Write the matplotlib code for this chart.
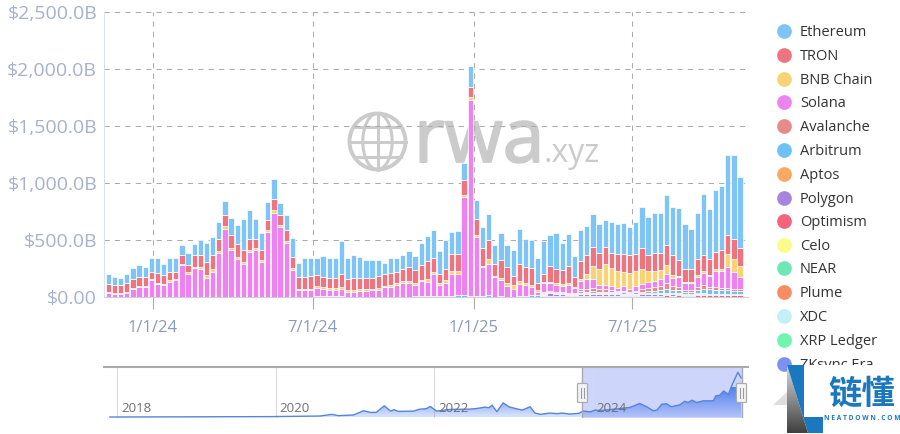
import numpy as np
import pandas as pd
import matplotlib
matplotlib.use('Agg')
import matplotlib.pyplot as plt
import matplotlib.dates as mdates
import matplotlib.patheffects as pe
from matplotlib.patches import Circle, Ellipse, Polygon, Rectangle, FancyBboxPatch

plt.rcParams['font.family'] = ['Open Sans', 'Noto Sans CJK SC', 'DejaVu Sans']

# weekly bars, values in $B
bar_dates = pd.date_range('2023-11-11', periods=104, freq='7D')

ethereum = [85, 76, 64, 79, 96, 99, 88, 120, 128, 99, 120, 120, 85, 102, 96, 131, 166, 161, 155, 120,
            152, 166, 269, 254, 172, 152, 155, 178, 108, 123, 164, 128, 169, 158, 149,
            181, 172, 172, 292, 184, 196, 184, 155, 155, 140, 99, 128, 120, 123, 140, 128, 196, 216, 242, 199,
            254, 196, 204, 149, 180, 172, 190, 228, 166, 239, 190, 225, 304, 239, 242, 222,
            289, 272, 312, 239, 280, 184, 272, 251, 292, 251, 239, 272, 263, 272, 248, 286, 365, 336, 347, 353,
            435, 423, 453, 394, 350, 409, 534, 438, 540, 566, 701, 733, 628]
tron = [69, 66, 66, 75, 75, 78, 78, 60, 87, 73, 76, 60, 80, 63, 102, 105, 120, 126, 103, 98,
        111, 113, 105, 95, 80, 87, 90, 97, 84, 99, 102, 99, 99, 110, 98,
        92, 96, 96, 117, 99, 111, 102, 102, 96, 109, 103, 109, 101, 104, 118, 116, 130, 164, 121, 78,
        100, 145, 145, 126, 90, 137, 151, 165, 102, 155, 144, 82, 145, 141, 151, 61,
        68, 138, 129, 126, 150, 84, 157, 163, 160, 140, 143, 134, 152, 157, 158, 152, 181, 137, 163, 149,
        176, 175, 140, 114, 114, 138, 141, 135, 153, 166, 167, 178, 155]
bnb_chain = [10, 10, 10, 10, 10, 10, 10, 13, 12, 12, 12, 13, 13, 13, 15, 18, 20, 20, 20, 25,
             20, 18, 18, 16, 16, 15, 18, 20, 18, 18, 15, 12, 12, 13, 13,
             13, 12, 12, 14, 12, 12, 12, 12, 12, 14, 14, 14, 16, 16, 16, 15, 16, 20, 22, 18,
             20, 30, 30, 20, 25, 18, 15, 45, 15, 20, 25, 35, 30, 20, 15, 12,
             14, 14, 14, 14, 16, 12, 18, 50, 120, 146, 190, 158, 143, 120, 143, 125, 131, 102, 82, 76,
             78, 29, 12, 12, 12, 14, 14, 14, 16, 18, 110, 111, 99]
solana = [38, 26, 26, 38, 73, 90, 90, 149, 114, 105, 134, 149, 277, 204, 251, 245, 169, 222, 383, 596,
          412, 333, 289, 397, 412, 310, 571, 741, 615, 475, 236, 61, 61, 61, 74,
          63, 55, 55, 60, 43, 43, 52, 52, 58, 58, 81, 88, 102, 123, 123, 100, 128, 122, 188, 100,
          120, 188, 182, 864, 1718, 523, 250, 271, 169, 139, 93, 67, 104, 93, 77, 32,
          73, 64, 58, 53, 67, 38, 70, 85, 79, 35, 35, 35, 26, 44, 23, 44, 47, 53, 58, 61,
          76, 64, 82, 58, 58, 88, 108, 91, 137, 152, 190, 152, 105]
avalanche = [0] * 71 + [12, 10, 10, 10, 8, 8, 20, 22, 22, 20, 20, 16, 12, 12, 10, 12, 20, 25, 30, 38,
                        60, 40, 30, 15, 15, 25, 35, 22, 25, 15, 15, 15, 15]
arbitrum = [0] * 34 + [8, 10, 8, 8, 10, 3, 3, 3, 3, 3, 3, 3, 3, 3, 3, 3, 5, 8, 12, 12, 5,
                       5, 12, 18, 15, 10, 5, 10, 18, 3, 10, 3, 3, 10, 12, 14, 15,
                       8, 8, 8, 6, 6, 6, 14, 14, 16, 14, 14, 14, 12, 14, 12, 14, 15, 18, 22, 25,
                       30, 28, 28, 20, 20, 30, 35, 38, 35, 35, 35, 30, 28]
aptos = [0] * 71 + [6, 6, 7, 6, 6, 6, 8, 7, 8, 8, 8, 8, 8, 8, 8, 8, 8, 8, 8, 8,
                    8, 8, 8, 6, 6, 8, 8, 6, 6, 6, 6, 6, 6]
polygon = [0] * 71 + [15, 25, 15, 16, 12, 12, 20, 20, 22, 18, 18, 16, 16, 14, 8, 14, 14, 13, 13, 13,
                      12, 11, 10, 8, 8, 10, 10, 8, 8, 6, 6, 5, 4]
optimism = [0] * 71 + [6, 6, 7, 6, 6, 6, 8, 7, 8, 7, 7, 7, 7, 7, 6, 7, 10, 12, 12, 12,
                       16, 12, 14, 12, 12, 17, 17, 16, 16, 14, 14, 14, 14]

legend_names = ['Ethereum', 'TRON', 'BNB Chain', 'Solana', 'Avalanche', 'Arbitrum', 'Aptos', 'Polygon',
                'Optimism', 'Celo', 'NEAR', 'Plume', 'XDC', 'XRP Ledger', 'ZKsync Era']
legend_colors = ['#7FC4F7', '#EE7480', '#F8D375', '#EE82F0', '#E98A8A', '#6EC1F7', '#FBA863', '#A585E0',
                 '#F5647A', '#FBFB8A', '#6FE6B5', '#F98C63', '#C3F0F7', '#6FF5B0', '#7B93F0']

y_ticks = [0, 500, 1000, 1500, 2000, 2500]
y_labels = ['$0.00', '$500.0B', '$1,000.0B', '$1,500.0B', '$2,000.0B', '$2,500.0B']
x_ticks = ['2024-01-01', '2024-07-01', '2025-01-01', '2025-07-01']
x_labels = ['1/1/24', '7/1/24', '1/1/25', '7/1/25']

# overview strip at the bottom: year, height of the curve
slider_years = [2017.91, 2019.0, 2019.93, 2020.56, 2020.71, 2020.79, 2020.98, 2021.11, 2021.19, 2021.27,
                2021.37, 2021.45, 2021.49, 2021.55, 2021.74, 2021.82, 2021.90, 2021.95, 2022.03, 2022.2,
                2022.45, 2022.54, 2022.64, 2022.69, 2022.73, 2022.79, 2022.87, 2022.94, 2023.02, 2023.11,
                2023.21, 2023.27, 2023.34, 2023.46, 2023.55, 2023.61, 2023.71, 2023.82, 2023.88, 2023.97,
                2024.03, 2024.09, 2024.47, 2024.59, 2024.68, 2024.76, 2024.81, 2024.87, 2024.93, 2024.99,
                2025.10, 2025.16, 2025.20, 2025.25, 2025.31, 2025.39, 2025.52, 2025.55, 2025.60, 2025.65,
                2025.71, 2025.75, 2025.83, 2025.87]
slider_values = [0.3, 0.5, 0.7, 1.3, 3, 1.7, 2.3, 6.7, 5, 5,
                 11.7, 6.3, 7.7, 6, 6.3, 8.3, 8.7, 11, 6.3, 8,
                 8.3, 9, 10.3, 9.7, 12.3, 5.7, 14.7, 10.7, 9, 7.3,
                 10.7, 4.3, 3, 4.3, 3.7, 4.3, 3.3, 4, 6.3, 5.5,
                 7.3, 6.8, 10, 14, 10.7, 6.7, 7.3, 13.3, 13.7, 10.7,
                 12.7, 16.3, 15, 17.3, 15, 16.7, 16.7, 21.7, 22.3, 26.7,
                 23.3, 31.7, 45.7, 40]
slider_year_ticks = [2018, 2020, 2022, 2024]
selection = (2023.86, 2025.88)

W, H = 900, 434


def px_axes(fig, left, top, right, bottom, **kw):
    return fig.add_axes([left / W, 1 - bottom / H, (right - left) / W, (bottom - top) / H], **kw)


fig = plt.figure(figsize=(9, 4.34), dpi=100, facecolor='white')

# background layer: watermark
bg = px_axes(fig, 0, 0, W, H, zorder=0)
bg.set_xlim(0, W)
bg.set_ylim(H, 0)
bg.axis('off')
mark = '#CBCBCB'
gx, gy, gr = 377.5, 141.5, 28
bg.add_patch(Circle((gx, gy), gr, fill=False, ec=mark, lw=2.8))
bg.add_patch(Ellipse((gx, gy), gr * 1.05, gr * 2, fill=False, ec=mark, lw=2.2))
bg.plot([gx, gx], [gy - gr, gy + gr], color=mark, lw=2.2)
for dy in (-15, 0, 15):
    half = np.sqrt(gr ** 2 - dy ** 2)
    bg.plot([gx - half, gx + half], [gy + dy, gy + dy], color=mark, lw=2.2)
bold = [pe.withStroke(linewidth=1.4, foreground=mark)]
bg.text(414, 162, 'rwa', fontsize=54, color=mark, ha='left', va='baseline', path_effects=bold)
bg.text(544, 162, '.xyz', fontsize=23, color=mark, ha='left', va='baseline')

# main stacked bars
ax = px_axes(fig, 104, 12, 748, 297, zorder=2)
ax.patch.set_alpha(0)
bottom = np.zeros(len(bar_dates))
for name, values in [('Optimism', optimism), ('Polygon', polygon), ('Aptos', aptos), ('Arbitrum', arbitrum),
                     ('Avalanche', avalanche), ('Solana', solana), ('BNB Chain', bnb_chain), ('TRON', tron),
                     ('Ethereum', ethereum)]:
    ax.bar(bar_dates, values, width=6.0, bottom=bottom, color=legend_colors[legend_names.index(name)],
           edgecolor='white', linewidth=0.5, zorder=3)
    bottom += np.array(values)

ax.set_ylim(0, 2500)
ax.set_xlim(mdates.date2num(pd.Timestamp('2023-11-06')), mdates.date2num(pd.Timestamp('2025-11-10')))
ax.set_yticks(y_ticks)
ax.set_yticklabels(y_labels, fontsize=14, color='#A6B2CC')
ax.set_xticks(pd.to_datetime(x_ticks))
ax.set_xticklabels(x_labels, fontsize=12, color='#8A9AB8')
ax.grid(True, color='#ABABAB', lw=0.75, linestyle=(0, (5, 5)), zorder=1)
ax.tick_params(axis='y', length=0, pad=5)
ax.tick_params(axis='x', length=8.6, width=0.8, color='#ABABAB', pad=8)
for s in ['top', 'right']:
    ax.spines[s].set_visible(False)
ax.spines['left'].set_color('#DDE2EA')
ax.spines['bottom'].set_color('#CBD2DE')

# overview strip
sl = px_axes(fig, 104, 367, 748, 418, zorder=1)
x0, x1 = 2017.836, 2025.957
sl.axvspan(selection[0], selection[1], color='#CDD5FB', lw=0, zorder=1)
for yr in slider_year_ticks:
    sl.axvline(yr, color='#DADADA', lw=0.8, zorder=2)
    sl.text(yr + 0.05, 9, str(yr), fontsize=9.5, color='#6F6F6F', ha='left', va='center', zorder=6)
grad = np.zeros((100, 2, 4))
grad[..., 0] = 0.27
grad[..., 1] = 0.47
grad[..., 2] = 0.93
grad[..., 3] = np.linspace(0.9, 0.2, 100)[:, None]
im = sl.imshow(grad, extent=[x0, x1, 0, 30], aspect='auto', zorder=3, interpolation='bilinear')
area = Polygon(list(zip(slider_years, slider_values)) + [(slider_years[-1], 0), (slider_years[0], 0)],
               closed=True, transform=sl.transData, fc='none', ec='none')
sl.add_patch(area)
im.set_clip_path(area)
sl.plot(slider_years, slider_values, color='#5585DA', lw=1.0, zorder=4)
for edge in selection:
    sl.axvline(edge, color='#A9A9B5', lw=1.0, zorder=5)
sl.set_xlim(x0, x1)
sl.set_ylim(-0.7, 51)
sl.set_xticks([])
sl.set_yticks([])
for s in ['left', 'right', 'bottom']:
    sl.spines[s].set_visible(False)
sl.spines['top'].set_color('#ABABAB')
sl.spines['top'].set_linewidth(1.5)

# foreground layer: legend, slider handles, logo
fg = px_axes(fig, 0, 0, W, H, zorder=5)
fg.set_xlim(0, W)
fg.set_ylim(H, 0)
fg.axis('off')

for hx in (582.5, 741.5):
    fg.add_patch(FancyBboxPatch((hx - 4.5, 384), 9, 18, boxstyle='round,pad=0.5,rounding_size=1',
                                fc='#F4F4F4', ec='#ABABAB', lw=0.9))
    fg.plot([hx - 1.3, hx - 1.3], [388, 398], color='#9A9A9A', lw=0.8)
    fg.plot([hx + 1.3, hx + 1.3], [388, 398], color='#9A9A9A', lw=0.8)

legend_y = [31, 55, 79, 102, 126, 150, 174, 198, 221, 245, 268, 292, 316, 340, 364]
for name, color, ly in zip(legend_names, legend_colors, legend_y):
    fg.scatter([783.5], [ly], s=112, color=color, lw=0, zorder=2)
    fg.text(800, ly + 1.5, name, fontsize=10.5, color='#333333', ha='left', va='center', zorder=2)

# page arrow of the legend, mostly behind the logo
fg.add_patch(Polygon([(773, 405), (787, 392), (787, 405)], closed=True, fc='#DEDEDE', ec='none', zorder=2))

# logo hides the end of the legend
fg.add_patch(Rectangle((787, 365), 113, 69, fc='white', ec='none', zorder=3))
tri = Polygon([(787, 365), (787, 433), (808, 433)], closed=True, transform=fg.transData, fc='none', ec='none')
fg.add_patch(tri)
shade = np.linspace(0.85, 0.25, 64)[:, None] * np.ones((64, 16))
logo_im = fg.imshow(shade, extent=[787, 808, 433, 365], cmap='gray', vmin=0, vmax=1, aspect='auto', zorder=4)
logo_im.set_clip_path(tri)
fg.add_patch(Polygon([(787, 365), (803.5, 365), (803.5, 417), (823, 417), (823, 433), (808, 433)],
                     closed=True, fc='#1B78BE', ec='none', zorder=5))
fg.text(861.5, 394, '链懂', fontsize=24, fontweight='bold', family=['Noto Sans CJK SC', 'DejaVu Sans'],
        color='#1B78BE', ha='center', va='center', zorder=5)
fg.text(862, 418, 'N E A T D O W N . C O M', fontsize=4.8, fontweight='bold', color='#1B78BE', ha='center',
        va='center', zorder=5)
fg.set_xlim(0, W)
fg.set_ylim(H, 0)

fig.savefig('out.png', dpi=100)
